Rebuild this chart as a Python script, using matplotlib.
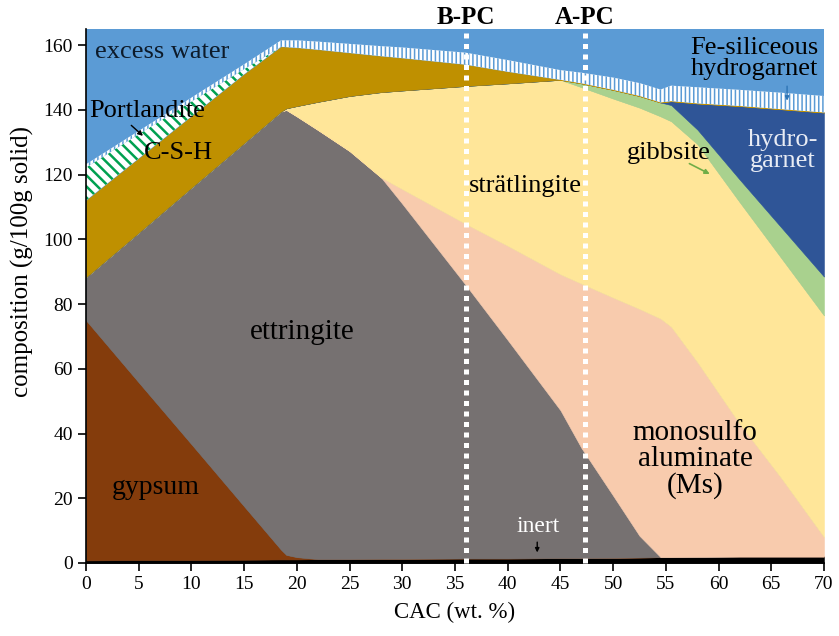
import numpy as np
import matplotlib as mpl
import matplotlib.pyplot as plt

plt.rcParams['font.family'] = ['Liberation Serif', 'DejaVu Serif']

# CAC content (wt. %) where the phase amounts were read
cac = [0, 5, 10, 15, 18.5, 19, 20, 22, 25, 28, 30, 36, 40, 45, 47, 50, 52.5, 54.5, 55.5, 58, 62, 66, 70]

# phase amounts, g/100g solid (stacked from the bottom up)
inert = [0.8, 0.9, 0.9, 1.0, 1.1, 1.1, 1.1, 1.2, 1.2, 1.3, 1.3, 1.4, 1.4, 1.5, 1.5, 1.6, 1.7, 1.8, 1.8, 1.9, 2.0, 2.0, 2.0]
gypsum = [74.2, 54.9, 35.8, 16.5, 3.0, 1.4, 0.7, 0, 0, 0, 0, 0, 0, 0, 0, 0, 0, 0, 0, 0, 0, 0, 0]
ettringite = [13.3, 46.3, 79.3, 112.3, 135.4, 137.5, 136.2, 132.6, 126.1, 117.8, 109.7, 84.6, 67.5, 45.7, 34.0, 19.2, 6.7, 0, 0, 0, 0, 0, 0]
monosulfo = [0, 0, 0, 0, 0, 0, 0, 0, 0, 0, 4.5, 18.8, 29.1, 42.0, 50.8, 61.2, 70.1, 73.7, 71.2, 60.1, 41, 24, 6]
stratlingite = [0, 0, 0, 0, 0, 0.5, 3.2, 8.7, 17.0, 26.4, 30.5, 42.6, 50.2, 60.1, 60.7, 61.5, 62.2, 62.5, 63.5, 67.4, 68.5, 68, 68.5]
gibbsite = [0, 0, 0, 0, 0, 0, 0, 0, 0, 0, 0, 0, 0, 0, 1.2, 2.7, 3.6, 4.3, 5.0, 4.5, 7.0, 9.5, 12]
hydrogarnet = [0, 0, 0, 0, 0, 0, 0, 0, 0, 0, 0, 0, 0, 0, 0, 0, 0, 0, 1.2, 8.1, 22.7, 36.7, 50.7]
csh = [23.7, 22.9, 22, 21.2, 20, 18.9, 18, 16.1, 13.3, 11.1, 10, 6.6, 3.6, 0, 0, 0, 0, 0, 0, 0, 0, 0, 0]
portlandite = [10.2, 7.5, 4.6, 1.6, 0, 0, 0, 0, 0, 0, 0, 0, 0, 0, 0, 0, 0, 0, 0, 0, 0, 0, 0]
fe_hydrogarnet = [1.0, 1.0, 1.2, 1.5, 2.0, 2.1, 2.3, 2.5, 2.8, 3.1, 3.3, 3.7, 3.6, 3.0, 3.3, 3.8, 4.0, 4.0, 4.8, 5.0, 5.0, 5.1, 5.1]

b_pc = 36
a_pc = 47.3

# amount, fill colour, hatch, hatch colour, hatch width
layers = [
    (inert, '#000000', None, None, 0),
    (gypsum, '#843C0C', None, None, 0),
    (ettringite, '#767171', None, None, 0),
    (monosulfo, '#F8CBAD', None, None, 0),
    (stratlingite, '#FFE699', None, None, 0),
    (gibbsite, '#A9D18E', None, None, 0),
    (hydrogarnet, '#2F5597', None, None, 0),
    (csh, '#BF9000', None, None, 0),
    (portlandite, 'white', '\\\\\\', '#00A050', 1.8),
    (fe_hydrogarnet, 'white', '||||', '#5B9BD5', 1.1),
]

fig = plt.figure(figsize=(8.39, 6.36), dpi=100)
ax = fig.add_axes([0.1025, 0.1148, 0.8796, 0.8396])
ax.set_facecolor('#5B9BD5')  # excess water fills the rest

base = np.zeros(len(cac))
for amount, color, hatch, hcolor, hlw in layers:
    top = base + np.array(amount)
    if hatch:
        mpl.rcParams['hatch.linewidth'] = hlw
        poly = ax.fill_between(cac, base, top, facecolor=color, edgecolor=hcolor,
                               hatch=hatch, linewidth=0)
        if hasattr(poly, 'set_hatch_linewidth'):
            poly.set_hatch_linewidth(hlw)
    else:
        ax.fill_between(cac, base, top, facecolor=color, edgecolor=color, linewidth=0.4)
    base = top

# dotted reference lines
for xv in (b_pc, a_pc):
    ax.axvline(xv, color='white', lw=3.6, ls=(0, (1.0, 1.1)), dash_capstyle='butt',
               zorder=5, clip_on=False)
ax.text(b_pc, 168.4, 'B-PC', ha='center', va='center', fontsize=18, fontweight='bold')
ax.text(a_pc, 168.4, 'A-PC', ha='center', va='center', fontsize=18, fontweight='bold')

# labels inside the areas
ax.text(0.85, 158, 'excess water', ha='left', va='center', fontsize=19, color='#0D1B2A')
ax.text(0.3, 139.7, 'Portlandite', ha='left', va='center', fontsize=19)
ax.annotate('', xy=(5.6, 131.4), xytext=(4.1, 135.8),
            arrowprops=dict(arrowstyle='-|>', color='black', lw=1, mutation_scale=7))
ax.text(8.8, 126.7, 'C-S-H', ha='center', va='center', fontsize=19)
ax.text(20.5, 71.5, 'ettringite', ha='center', va='center', fontsize=21)
ax.text(6.6, 23.4, 'gypsum', ha='center', va='center', fontsize=20)
ax.text(41.7, 116.6, 'strätlingite', ha='center', va='center', fontsize=19)
ax.text(55.3, 126.7, 'gibbsite', ha='center', va='center', fontsize=19)
ax.annotate('', xy=(59.4, 119.8), xytext=(57.0, 123.8),
            arrowprops=dict(arrowstyle='-|>', color='#70AD47', lw=1.2, mutation_scale=7))
ax.text(63.4, 155.8, 'Fe-siliceous\nhydrogarnet', ha='center', va='center', fontsize=19,
        linespacing=0.95)
ax.annotate('', xy=(66.5, 142.0), xytext=(66.5, 148.2),
            arrowprops=dict(arrowstyle='-|>', color='#2E75B6', lw=1, mutation_scale=6))
ax.text(66.1, 127.4, 'hydro-\ngarnet', ha='center', va='center', fontsize=19,
        color='#E8ECF4', linespacing=0.95)
ax.text(57.8, 32, 'monosulfo\naluminate\n(Ms)', ha='center', va='center', fontsize=21,
        linespacing=1.0)
ax.text(42.9, 11.3, 'inert', ha='center', va='center', fontsize=17, color='white')
ax.annotate('', xy=(42.8, 2.4), xytext=(42.8, 7.3),
            arrowprops=dict(arrowstyle='-|>', color='black', lw=1, mutation_scale=6))

ax.set_xlim(0, 70)
ax.set_ylim(0, 165)
ax.set_xticks(np.arange(0, 71, 5))
ax.set_yticks(np.arange(0, 161, 20))
ax.spines['top'].set_visible(False)
ax.spines['right'].set_visible(False)
ax.spines['left'].set_linewidth(1.2)
ax.spines['bottom'].set_linewidth(1.2)
ax.tick_params(direction='out', length=6, width=1.2, labelsize=14)
ax.set_xlabel('CAC (wt. %)', fontsize=16.5, labelpad=6)
ax.set_ylabel('composition (g/100g solid)', fontsize=18)
ax.yaxis.set_label_coords(-0.071, 0.565)

fig.savefig('out.png', dpi=100)
